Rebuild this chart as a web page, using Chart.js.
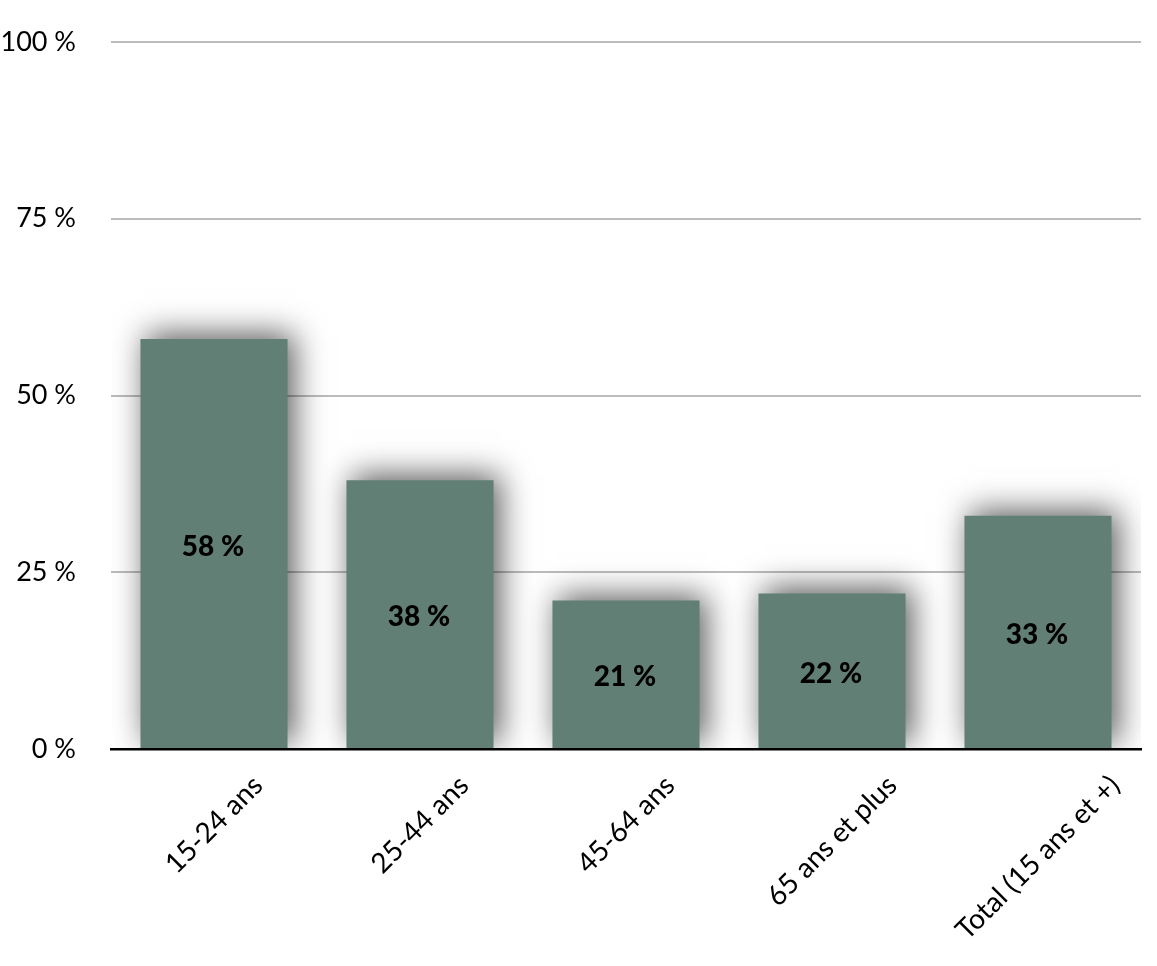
<!DOCTYPE html>
<html>
<head>
<meta charset="utf-8">
<script src="https://cdn.jsdelivr.net/npm/chart.js@4/dist/chart.umd.min.js"></script>
<style>
  html, body { margin: 0; padding: 0; background: #fff; }
  #wrap { width: 1157px; height: 966px; }
</style>
</head>
<body>
<div id="wrap"><canvas id="grafico"></canvas></div>
<script>
// categories et valeurs (en %)
const categories = ['15-24 ans', '25-44 ans', '45-64 ans', '65 ans et plus', 'Total (15 ans et +)'];
const valeurs = [58, 38, 21, 22, 33];
const yTicks = [0, 25, 50, 75, 100];

const couleurBarre = '#617f75';
const police = 'Lato, "Open Sans", sans-serif';

// ombre douce autour des barres
const ombreBarres = {
  id: 'ombreBarres',
  beforeDatasetsDraw(chart) {
    const ctx = chart.ctx;
    ctx.save();
    ctx.shadowColor = 'rgba(0,0,0,0.65)';
    ctx.shadowBlur = 30;
    ctx.shadowOffsetX = 6;
    ctx.shadowOffsetY = -5;
  },
  afterDatasetsDraw(chart) {
    chart.ctx.restore();
  }
};

// valeurs au milieu des barres + etiquettes x inclinees, centrees sur la categorie
const etiquettes = {
  id: 'etiquettes',
  afterDraw(chart) {
    const ctx = chart.ctx;
    const meta = chart.getDatasetMeta(0);
    ctx.save();
    ctx.fillStyle = '#000';
    ctx.font = '900 28px ' + police;
    ctx.textAlign = 'center';
    ctx.textBaseline = 'middle';
    meta.data.forEach((bar, i) => {
      const mid = (bar.y + bar.base) / 2;
      ctx.fillText(valeurs[i] + ' %', bar.x - 1, mid + 3);
    });

    const xScale = chart.scales.x;
    const haut = chart.chartArea.bottom + 24;
    const s = Math.SQRT1_2;
    ctx.font = '28px ' + police;
    categories.forEach((lab, i) => {
      const cx = xScale.getPixelForTick(i);
      const L = ctx.measureText(lab).width;
      const h = 22;
      const cy = haut + (L / 2) * s + (h / 2) * s;
      ctx.save();
      ctx.translate(cx, cy);
      ctx.rotate(-Math.PI / 4);
      ctx.fillText(lab, 0, 0);
      ctx.restore();
    });
    ctx.restore();
  }
};

new Chart(document.getElementById('grafico').getContext('2d'), {
  type: 'bar',
  data: {
    labels: categories,
    datasets: [{
      data: valeurs,
      backgroundColor: couleurBarre,
      borderWidth: 0,
      barPercentage: 0.714,
      categoryPercentage: 1
    }]
  },
  options: {
    responsive: true,
    maintainAspectRatio: false,
    animation: false,
    layout: { padding: { top: 42, right: 16, left: 0, bottom: 0 } },
    plugins: {
      legend: { display: false },
      tooltip: { enabled: false }
    },
    scales: {
      x: {
        grid: { display: false },
        border: { display: true, color: '#000', width: 2.5 },
        ticks: { display: false },
        afterFit(scale) { scale.height = 217; }
      },
      y: {
        min: 0,
        max: 100,
        afterBuildTicks(scale) { scale.ticks = yTicks.map(v => ({ value: v })); },
        grid: { color: '#bcbcbc', lineWidth: 2, drawTicks: false },
        border: { display: false },
        ticks: {
          color: '#000',
          padding: 35,
          font: { family: police, size: 27 },
          callback: v => v + ' %'
        },
        afterFit(scale) {
          scale.width = 111;
          scale.paddingTop = 10;
          scale.paddingBottom = 10;
        }
      }
    }
  },
  plugins: [ombreBarres, etiquettes]
});
</script>
</body>
</html>
